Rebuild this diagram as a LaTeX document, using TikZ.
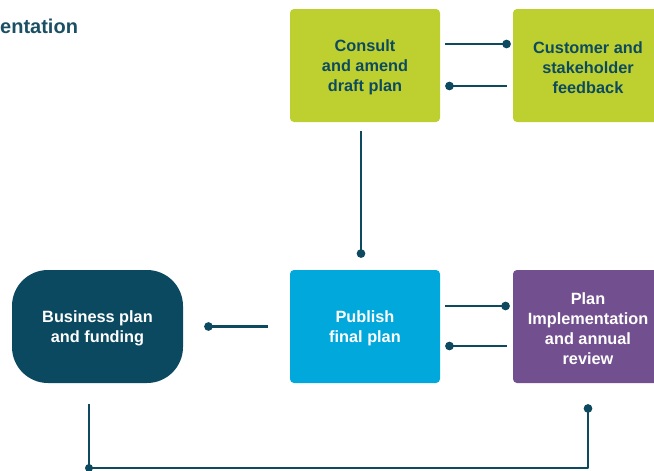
\documentclass[tikz,border=0pt]{standalone}
\usepackage{fontspec}
\setmainfont{Liberation Sans}
\usetikzlibrary{arrows.meta}

\definecolor{lime}{HTML}{BDD030}
\definecolor{skyblue}{HTML}{00A8DC}
\definecolor{plum}{HTML}{724F8E}
\definecolor{petrol}{HTML}{0B4960}
\definecolor{wire}{HTML}{0E4A5F}
\definecolor{heading}{HTML}{1B4F64}

\tikzset{
  stage/.style={rectangle, rounded corners=4pt, minimum width=150pt, minimum height=113pt,
    inner sep=0pt},
  limebox/.style={stage, fill=lime},
  bluebox/.style={stage, fill=skyblue},
  plumbox/.style={stage, fill=plum},
  petrolbox/.style={stage, fill=petrol, rounded corners=36pt, minimum width=171pt},
  caption/.style={inner sep=0pt, align=center, font=\fontsize{16.3}{20}\selectfont\bfseries},
  conn/.style={draw=wire, line width=2.7pt, -{Circle[length=8.5pt,width=8.5pt]}},
}

\begin{document}
\begin{tikzpicture}[x=1pt, y=-1pt]
  \useasboundingbox (0,0) rectangle (654,471);
  \clip (0,0) rectangle (654,471);

  % heading fragment
  \node[anchor=base west, inner sep=0pt, text=heading, font=\fontsize{20}{22}\selectfont\bfseries]
    (title) at (0,34) {entation};

  % stages
  \node[limebox]   (consult)  at (365,65.5)  {};
  \node[limebox]   (customer) at (588,65.5)  {};
  \node[bluebox]   (publish)  at (365,326.5) {};
  \node[plumbox]   (review)   at (588,326.5) {};
  \node[petrolbox] (business) at (97.5,326.5) {};

  % stage captions
  \node[caption, text=wire]  (consulttxt)  at ([yshift=-2pt]consult.center)  {Consult\\and amend\\draft plan};
  \node[caption, text=wire]  (customertxt) at ([yshift=-2pt]customer.center) {Customer and\\stakeholder\\feedback};
  \node[caption, text=white] (publishtxt)  at ([yshift=-2pt]publish.center)  {Publish\\final plan};
  \node[caption, text=white] (reviewtxt)   at ([yshift=-2pt]review.center)   {Plan\\Implementation\\and annual\\review};
  \node[caption, text=white] (businesstxt) at ([yshift=-2pt]business.center) {Business plan\\and funding};

  % consultation loop
  \draw[conn, shorten <=5pt, shorten >=2pt]
    ([yshift=21.5pt]consult.east) -- ([yshift=21.5pt]customer.west);
  \draw[conn, shorten <=6pt, shorten >=5pt]
    ([yshift=-20.5pt]customer.west) -- ([yshift=-20.5pt]consult.east);

  % consult to publish
  \draw[conn, shorten <=9pt, shorten >=12pt]
    ([xshift=-4pt]consult.south) -- ([xshift=-4pt]publish.north);

  % publish to business plan
  \draw[conn, shorten <=22pt, shorten >=21pt] (publish.west) -- (business.east);

  % implementation loop
  \draw[conn, shorten <=5pt, shorten >=3pt]
    ([yshift=20.5pt]publish.east) -- ([yshift=20.5pt]review.west);
  \draw[conn, shorten <=6pt, shorten >=5pt]
    ([yshift=-19.5pt]review.west) -- ([yshift=-19.5pt]publish.east);

  % return path along the bottom
  \coordinate (turn) at (89,468);
  \draw[conn, shorten <=21pt, shorten >=21pt, line join=round]
    ([xshift=-8.5pt]business.south) -- (turn) -| (review.south);
  \fill[wire] (turn) circle (4pt);
\end{tikzpicture}
\end{document}
